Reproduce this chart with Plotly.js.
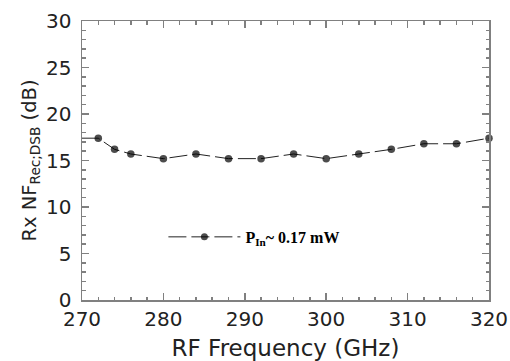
<!DOCTYPE html>
<html>
<head>
<meta charset="utf-8">
<script src="https://cdn.plot.ly/plotly-3.0.1.min.js"></script>
<style>html,body{margin:0;padding:0;background:#fff;}#chart{width:510px;height:361px;}</style>
</head>
<body>
<div id="chart"></div>
<script>
const freqGHz = [270, 272, 274, 276, 280, 284, 288, 292, 296, 300, 304, 308, 312, 316, 320];
const nfDB    = [17.4, 17.4, 16.2, 15.7, 15.2, 15.7, 15.2, 15.2, 15.7, 15.2, 15.7, 16.2, 16.8, 16.8, 17.4];
const markerSizes = [0, 7.5, 7.5, 7.5, 7.5, 7.5, 7.5, 7.5, 7.5, 7.5, 7.5, 7.5, 7.5, 7.5, 7.5];
const seriesName = '<b>P<sub>In</sub>~ 0.17 mW</b>';

const trace = {
  x: freqGHz, y: nfDB, type: 'scatter', mode: 'lines+markers', name: seriesName,
  line: {color: '#222', width: 1, dash: '18px,5px'},
  marker: {color: '#000', size: markerSizes, symbol: 'circle', line: {width: 0}},
  cliponaxis: false
};

const axisCommon = {
  showline: true, linecolor: '#808080', linewidth: 1.5, mirror: 'ticks',
  ticks: 'inside', ticklen: 7, tickwidth: 1.5, tickcolor: '#808080',
  showgrid: false, zeroline: false,
  tickfont: {family: 'DejaVu Sans, Verdana, sans-serif', size: 20, color: '#222'}
};

const layout = {
  width: 510, height: 361,
  margin: {l: 82, r: 21, t: 21, b: 61},
  paper_bgcolor: '#fff', plot_bgcolor: '#fff',
  showlegend: true,
  legend: {
    x: 0.2, y: 0.226, xanchor: 'left', yanchor: 'middle',
    bgcolor: 'rgba(0,0,0,0)', itemwidth: 72,
    font: {family: 'Liberation Serif, Times New Roman, serif', size: 16, color: '#000'}
  },
  xaxis: Object.assign({}, axisCommon, {
    range: [270, 320], tick0: 270, dtick: 10,
    minor: {dtick: 2, ticklen: 3.5, tickwidth: 1.5, tickcolor: '#808080', ticks: 'inside'},
    title: {text: 'RF Frequency (GHz)', standoff: 14,
            font: {family: 'DejaVu Sans, Verdana, sans-serif', size: 23, color: '#222'}}
  }),
  yaxis: Object.assign({}, axisCommon, {
    range: [0, 30], tick0: 0, dtick: 5, ticklabelstandoff: 5,
    minor: {dtick: 1, ticklen: 3.5, tickwidth: 1.5, tickcolor: '#808080', ticks: 'inside'},
    title: {text: 'Rx NF<sub>Rec;DSB</sub> (dB)', standoff: 4,
            font: {family: 'DejaVu Sans, Verdana, sans-serif', size: 19.5, color: '#222'}}
  })
};

Plotly.newPlot('chart', [trace], layout, {staticPlot: true, displayModeBar: false});
</script>
</body>
</html>
